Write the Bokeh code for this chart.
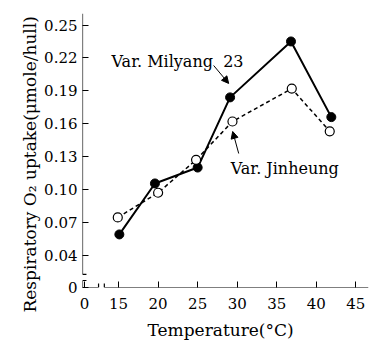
from bokeh.plotting import figure
from bokeh.models import Range1d, FixedTicker, Arrow, NormalHead, Title
from bokeh.core.properties import value
from bokeh.embed import file_html
from bokeh.resources import INLINE

# ---- data ----
milyang_temp = [15.1, 19.6, 25.0, 29.1, 36.8, 41.9]
milyang_o2 = [0.059, 0.1055, 0.120, 0.184, 0.235, 0.166]
jinheung_temp = [14.9, 20.0, 24.8, 29.4, 36.9, 41.7]
jinheung_o2 = [0.0745, 0.097, 0.127, 0.162, 0.192, 0.153]

x_ticks = [15, 20, 25, 30, 35, 40, 45]
x_tick_labels = ["15", "20", "25", "30", "35", "40", "45"]
y_ticks = [0.04, 0.07, 0.10, 0.13, 0.16, 0.19, 0.22, 0.25]
y_tick_labels = ["0.04", "0.07", "0.10", "0.13", "0.16", "0.19", "0.22", "0.25"]

# broken axes: where the "0" labels sit
X0, X1 = 10.44, 46.6
Y0, Y1 = 0.0106, 0.2605
x_zero_pos = 10.7
y_zero_pos = Y0

FONT = "DejaVu Serif"

p = figure(frame_width=286, frame_height=274, output_backend="svg",
           toolbar_location=None, x_range=Range1d(X0, X1), y_range=Range1d(Y0, Y1),
           min_border_left=82, min_border_top=13, min_border_right=1, min_border_bottom=54)
p.outline_line_color = None
p.grid.visible = False
p.background_fill_color = "white"

# axes
p.xaxis.ticker = FixedTicker(ticks=[x_zero_pos] + x_ticks)
p.xaxis.major_label_overrides = {**{x_zero_pos: "0"}, **dict(zip(x_ticks, x_tick_labels))}
p.yaxis.ticker = FixedTicker(ticks=[y_zero_pos] + y_ticks)
p.yaxis.major_label_overrides = {**{y_zero_pos: "0"}, **dict(zip(y_ticks, y_tick_labels))}
for ax in (p.xaxis, p.yaxis):
    ax.axis_line_color = None
    ax.major_tick_in = 6
    ax.major_tick_out = 0
    ax.minor_tick_line_color = None
    ax.major_tick_line_color = "black"
    ax.major_tick_line_width = 1
    ax.major_label_text_font = FONT
    ax.major_label_text_font_size = "15px"
    ax.major_label_text_color = "black"
p.xaxis.major_label_standoff = 10
p.yaxis.major_label_standoff = 5

# axis titles (side titles so they can be shifted along the axis)
p.add_layout(Title(text="Respiratory O₂ uptake(μmole/hull)", align="left", offset=-25,
                   text_font=FONT, text_font_size="17px", text_font_style="normal",
                   text_color="black", standoff=4), "left")
p.add_layout(Title(text="Temperature(°C)", align="left", offset=65,
                   text_font=FONT, text_font_size="17px", text_font_style="normal",
                   text_color="black", standoff=12), "below")

# axis lines with break marks
xb1, xb2 = 12.47, 13.2
yb1, yb2 = 0.0225, 0.0170
dx, dy = 0.5, 0.0036
p.segment(x0=[X0, xb2, xb1, xb2, X0, X0, X0, X0],
          y0=[Y0, Y0, Y0, Y0, Y1, yb2, yb1, yb2],
          x1=[xb1, X1, xb1, xb2, X0, X0, X0 + dx, X0 + dx],
          y1=[Y0, Y0, Y0 + dy, Y0 + dy, yb1, Y0, yb1, yb2],
          line_color="black", line_width=1.2)

# series
p.line(jinheung_temp, jinheung_o2, line_color="black", line_width=1.5, line_dash="4 3")
p.line(milyang_temp, milyang_o2, line_color="black", line_width=2)
p.scatter(milyang_temp, milyang_o2, size=9, marker="circle", fill_color="black", line_color="black")
p.scatter(jinheung_temp, jinheung_o2, size=9, marker="circle", fill_color="white", line_color="black", line_width=1.2)

# labels and arrows
p.text(x=[14.11, 29.17], y=[0.2167, 0.1192], text=["Var. Milyang\u00a0\u00a023", "Var. Jinheung"],
       text_font=value(FONT), text_font_size="16px", text_color="black",
       text_align="left", text_baseline="alphabetic")
p.add_layout(Arrow(x_start=27.02, y_start=0.2131, x_end=28.92, y_end=0.1967,
                   line_width=1, end=NormalHead(size=7, fill_color="black", line_color="black")))
p.add_layout(Arrow(x_start=30.19, y_start=0.1328, x_end=29.43, y_end=0.1529,
                   line_width=1, end=NormalHead(size=7, fill_color="black", line_color="black")))

open("out.html", "w").write(file_html(p, INLINE))
